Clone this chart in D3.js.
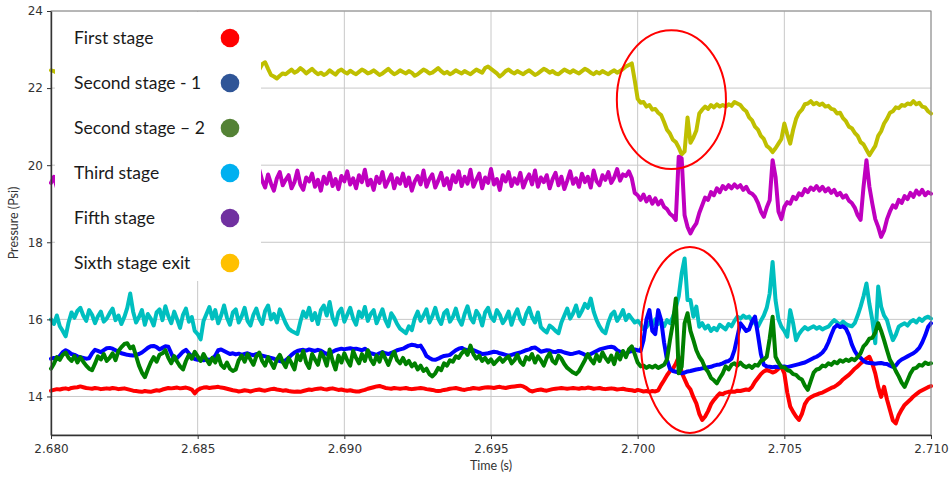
<!DOCTYPE html>
<html>
<head>
<meta charset="utf-8">
<script src="https://cdn.jsdelivr.net/npm/d3@7"></script>
<style>
  body { margin: 0; background: #fff; }
</style>
</head>
<body>
<svg id="chart" width="952" height="478"></svg>
<script>
// Sampling: one reading every 0.1 ms from t = 2.680 s
const sampleStart = 2.680;
const sampleStep = 0.0001;

const xTicks = [2.680, 2.685, 2.690, 2.695, 2.700, 2.705, 2.710];
const yTicks = [14, 16, 18, 20, 22, 24];

// Pressure traces (Psi)
const yellowTrace = [
  22.46,22.44,22.40,22.42,22.38,22.44,22.41,22.36,22.40,22.43,
  22.39,22.42,22.45,22.40,22.37,22.41,22.44,22.39,22.42,22.38,
  22.40,22.43,22.37,22.41,22.44,22.40,22.38,22.42,22.45,22.41,
  22.38,22.42,22.40,22.44,22.39,22.36,22.41,22.43,22.40,22.38,
  22.42,22.45,22.40,22.37,22.41,22.44,22.39,22.42,22.40,22.38,
  22.41,22.43,22.39,22.42,22.45,22.40,22.37,22.41,22.44,22.40,
  22.38,22.42,22.40,22.36,22.41,22.44,22.39,22.42,22.40,22.45,
  22.42,22.48,22.62,22.67,22.50,22.34,22.30,22.25,22.32,22.38,
  22.36,22.42,22.48,22.40,22.44,22.52,22.46,22.38,22.44,22.50,
  22.42,22.36,22.40,22.34,22.38,22.46,22.40,22.35,22.44,22.48,
  22.42,22.38,22.45,22.40,22.36,22.42,22.48,22.44,22.38,22.41,
  22.46,22.40,22.34,22.38,22.44,22.50,22.42,22.36,22.40,22.46,
  22.42,22.38,22.44,22.40,22.32,22.36,22.42,22.48,22.44,22.38,
  22.40,22.46,22.52,22.44,22.38,22.42,22.36,22.40,22.46,22.42,
  22.38,22.44,22.40,22.36,22.42,22.48,22.44,22.40,22.52,22.56,
  22.50,22.44,22.38,22.30,22.36,22.44,22.48,22.42,22.38,22.44,
  22.40,22.36,22.42,22.46,22.40,22.34,22.38,22.44,22.50,22.46,
  22.40,22.44,22.38,22.36,22.42,22.48,22.44,22.40,22.46,22.42,
  22.38,22.44,22.50,22.46,22.40,22.36,22.42,22.38,22.44,22.40,
  22.36,22.42,22.46,22.40,22.44,22.50,22.56,22.60,22.64,22.20,
  21.72,21.62,21.64,21.52,21.56,21.44,21.46,21.36,21.30,21.12,
  20.92,20.82,20.66,20.60,20.46,20.28,20.36,21.24,20.58,20.72,
  20.90,21.34,21.44,21.52,21.46,21.56,21.50,21.58,21.52,21.56,
  21.52,21.58,21.54,21.64,21.60,21.56,21.46,21.40,21.24,21.16,
  21.00,20.92,20.76,20.68,20.50,20.44,20.34,20.44,20.56,20.68,
  21.08,20.80,20.56,20.92,21.20,21.36,21.44,21.58,21.60,21.66,
  21.58,21.62,21.56,21.60,21.52,21.54,21.46,21.44,21.34,21.36,
  21.22,21.14,21.00,20.96,20.84,20.76,20.60,20.54,20.40,20.26,
  20.38,20.50,20.76,20.88,21.08,21.20,21.36,21.40,21.50,21.48,
  21.56,21.54,21.60,21.58,21.66,21.58,21.62,21.52,21.50,21.40,
  21.34
];

const magentaTrace = [
  19.54,19.70,19.42,19.66,19.50,19.78,19.46,19.62,19.38,19.72,
  19.58,19.44,19.76,19.52,19.68,19.40,19.64,19.80,19.48,19.60,
  19.72,19.44,19.58,19.36,19.70,19.52,19.66,19.42,19.78,19.56,
  19.48,19.74,19.60,19.40,19.68,19.50,19.82,19.46,19.62,19.70,
  19.44,19.58,19.76,19.50,19.38,19.66,19.54,19.72,19.46,19.60,
  19.80,19.52,19.64,19.42,19.70,19.56,19.48,19.74,19.62,19.40,
  19.68,19.54,19.78,19.46,19.60,19.72,19.44,19.58,19.66,19.50,
  19.74,19.88,19.60,19.42,19.76,19.52,19.34,19.66,19.82,19.48,
  19.62,19.74,19.40,19.56,19.86,19.50,19.36,19.68,19.58,19.78,
  19.44,19.62,19.34,19.70,19.52,19.80,19.46,19.64,19.38,19.72,
  19.58,19.84,19.50,19.66,19.40,19.74,19.56,19.88,19.48,19.62,
  19.36,19.70,19.54,19.82,19.44,19.60,19.76,19.40,19.66,19.52,
  19.78,19.46,19.68,19.34,19.58,19.72,19.50,19.86,19.44,19.64,
  19.76,19.42,19.60,19.80,19.48,19.66,19.38,19.74,19.56,19.84,
  19.46,19.70,19.52,19.88,19.44,19.62,19.78,19.40,19.68,19.54,
  19.90,19.50,19.64,19.36,19.74,19.58,19.82,19.46,19.66,19.52,
  19.80,19.42,19.62,19.76,19.50,19.86,19.44,19.68,19.56,19.74,
  19.40,19.64,19.80,19.48,19.70,19.38,19.60,19.84,19.52,19.66,
  19.44,19.78,19.56,19.70,19.42,19.86,19.58,19.48,19.74,19.62,
  19.82,19.54,19.68,19.90,19.60,19.76,19.72,19.84,19.66,19.28,
  19.22,19.10,19.24,19.06,19.18,19.00,19.14,18.98,19.08,18.92,
  18.86,18.74,18.68,18.58,20.22,20.18,18.70,18.40,18.23,18.38,
  18.49,18.76,18.96,19.16,19.10,19.30,19.22,19.40,19.30,19.46,
  19.38,19.48,19.40,19.50,19.42,19.48,19.36,19.44,19.30,19.26,
  19.18,19.02,18.80,18.66,18.90,19.09,20.13,19.70,18.80,18.60,
  18.92,19.04,19.00,19.18,19.12,19.27,19.22,19.38,19.30,19.42,
  19.36,19.46,19.34,19.44,19.32,19.40,19.28,19.36,19.22,19.28,
  19.16,19.22,19.08,19.02,18.90,18.70,18.58,19.44,20.13,19.44,
  19.00,18.60,18.40,18.14,18.30,18.60,18.80,18.96,18.90,19.10,
  19.02,19.20,19.12,19.28,19.18,19.34,19.24,19.36,19.22,19.30,
  19.26
];

const cyanTrace = [
  16.00,15.88,16.10,15.82,15.70,15.56,15.92,16.18,16.04,16.22,
  16.30,16.10,15.96,16.24,16.12,15.90,16.08,16.20,15.94,16.02,
  16.16,16.28,15.98,16.10,15.88,16.06,16.30,16.67,16.20,15.92,
  16.06,16.24,15.86,16.14,16.02,15.84,16.18,16.26,15.98,16.34,
  16.08,15.90,16.20,16.00,15.78,16.12,16.28,15.94,16.06,15.70,
  15.62,15.48,15.96,16.14,16.32,16.02,16.24,15.90,16.10,16.36,
  16.04,15.86,16.18,16.26,15.92,16.08,16.30,15.96,15.84,16.12,
  16.28,16.02,15.88,16.22,16.36,16.00,16.14,15.92,16.26,16.08,
  15.90,15.76,15.70,15.66,15.62,15.94,16.20,16.06,16.30,15.98,
  16.16,15.88,16.24,16.36,16.10,16.45,16.04,15.86,16.18,16.28,
  15.94,16.12,16.30,16.02,15.86,16.20,16.06,16.32,15.96,16.14,
  16.24,15.90,16.08,16.26,15.98,15.82,16.16,16.04,15.88,15.76,
  15.70,15.64,15.82,15.72,16.02,16.20,15.96,16.10,16.26,15.92,
  16.08,16.30,16.02,15.88,16.16,16.24,15.94,16.06,16.28,16.00,
  15.86,16.14,16.34,16.04,15.92,16.22,16.10,15.84,16.18,16.30,
  16.06,15.96,16.24,16.12,15.90,16.02,16.20,15.86,16.10,16.26,
  16.00,15.88,16.14,16.30,16.06,15.92,16.18,15.80,15.72,15.66,
  15.84,15.78,15.70,15.64,15.92,16.10,16.28,16.02,16.16,16.36,
  16.08,16.22,16.40,16.30,16.54,16.20,15.98,15.82,15.70,15.64,
  15.92,16.12,16.20,15.96,16.08,16.24,15.98,16.12,16.02,15.92,
  15.96,15.88,15.74,15.80,15.92,15.84,16.00,15.88,15.94,15.82,
  15.98,15.90,16.06,16.30,16.60,17.19,17.58,16.50,16.50,16.07,
  16.33,15.81,15.90,15.76,15.84,15.70,15.78,15.72,15.86,15.80,
  15.74,15.88,15.82,15.96,16.07,16.02,16.10,16.04,16.07,15.96,
  15.90,15.81,15.96,16.10,16.30,16.67,17.49,16.50,16.00,15.81,
  15.70,15.55,16.24,15.90,15.46,15.62,15.72,15.80,15.74,15.78,
  15.82,15.76,15.80,15.74,15.78,15.81,15.90,15.98,15.92,15.86,
  15.94,15.88,15.84,15.82,15.90,16.10,16.33,16.60,16.93,16.40,
  15.98,15.38,16.85,16.33,16.10,15.98,15.70,15.46,15.60,15.81,
  15.86,15.90,15.84,15.94,15.98,15.92,16.02,15.96,16.04,16.07,
  16.02
];

const blueTrace = [
  14.98,15.00,14.97,15.05,15.15,15.20,15.16,15.10,15.08,15.04,
  15.02,15.00,14.98,14.99,15.12,15.21,15.18,15.15,15.20,15.25,
  15.26,15.24,15.20,15.16,15.12,15.10,15.08,15.07,15.06,15.08,
  15.10,15.14,15.20,15.26,15.30,15.31,15.28,15.22,15.26,15.30,
  15.29,15.12,14.96,15.00,15.08,15.16,15.21,15.12,15.04,14.97,
  14.95,14.96,14.94,14.96,14.95,14.98,15.06,15.20,15.22,15.18,
  15.14,15.10,15.12,15.09,15.11,15.08,15.10,15.12,15.09,15.07,
  15.10,15.08,15.06,15.04,15.02,15.00,14.98,14.94,14.92,14.90,
  14.94,15.00,15.08,15.14,15.18,15.20,15.21,15.19,15.22,15.20,
  15.18,15.21,15.19,15.14,15.10,15.12,15.16,15.20,15.22,15.24,
  15.22,15.24,15.25,15.23,15.24,15.22,15.20,15.24,15.18,15.12,
  15.10,15.08,15.12,15.15,15.12,15.10,15.13,15.16,15.20,15.22,
  15.24,15.28,15.32,15.34,15.33,15.30,15.32,15.20,15.05,15.00,
  14.96,14.95,14.98,15.02,15.05,15.06,15.08,15.14,15.20,15.24,
  15.26,15.22,15.20,15.18,15.20,15.17,15.14,15.10,15.11,15.12,
  15.14,15.16,15.15,15.12,15.10,15.08,15.06,15.08,15.10,15.12,
  15.14,15.17,15.20,15.22,15.26,15.27,15.22,15.16,15.18,15.20,
  15.19,15.16,15.15,15.18,15.17,15.14,15.12,15.10,15.11,15.13,
  15.15,15.12,15.08,15.06,15.10,15.14,15.18,15.22,15.24,15.26,
  15.28,15.29,15.27,15.20,15.16,15.12,15.10,15.16,15.18,15.22,
  15.20,15.18,15.46,16.00,16.24,15.70,15.62,16.24,15.98,15.40,
  14.95,14.72,14.66,14.64,14.62,14.60,14.62,14.65,14.66,14.68,
  14.70,14.71,14.73,14.74,14.76,14.77,14.80,14.82,14.83,14.86,
  14.90,14.92,14.98,15.20,15.55,15.90,15.80,15.70,15.74,15.95,
  16.07,15.60,15.10,14.82,14.78,14.77,14.76,14.77,14.76,14.77,
  14.78,14.76,14.78,14.80,14.82,14.84,14.86,14.88,14.92,14.96,
  15.00,15.03,15.08,15.14,15.24,15.40,15.60,15.78,15.85,15.80,
  15.82,15.76,15.60,15.35,15.18,15.06,15.00,14.92,14.88,14.87,
  14.86,14.85,14.86,14.87,14.85,14.84,14.80,14.77,14.80,14.90,
  14.96,15.00,15.04,15.08,15.12,15.18,15.26,15.40,15.58,15.80,
  15.90
];

const greenTrace = [
  14.72,14.85,15.02,14.95,15.08,15.14,15.00,14.92,15.05,14.88,
  15.02,14.90,14.80,14.72,14.68,14.85,15.04,14.96,15.10,14.92,
  15.00,15.12,14.94,15.18,15.28,15.36,15.38,15.25,15.30,15.05,
  14.80,14.62,14.50,14.70,14.88,15.02,14.90,15.08,15.12,15.20,
  15.00,14.86,15.05,14.90,14.78,14.70,14.92,15.08,14.98,15.16,
  15.04,14.92,15.10,14.96,14.84,15.00,14.88,15.06,14.82,14.74,
  14.88,14.72,14.66,14.70,14.94,15.06,14.90,15.10,14.96,14.82,
  15.04,15.14,14.92,14.80,15.02,14.88,14.74,14.96,15.08,14.90,
  14.76,15.00,14.86,14.70,15.08,14.94,15.18,14.88,14.74,15.10,
  14.96,14.82,15.14,15.02,14.80,15.22,14.92,14.70,15.06,14.88,
  15.12,14.94,14.80,15.18,15.00,14.86,15.10,14.92,15.20,14.96,
  14.84,15.06,14.90,15.14,14.98,14.82,15.02,15.16,14.94,14.86,
  15.00,14.84,14.92,14.78,14.86,14.70,14.80,14.66,14.72,14.58,
  14.52,14.60,14.74,14.68,14.86,14.80,14.94,14.90,15.04,15.00,
  15.12,15.20,15.08,15.32,15.10,14.98,15.06,14.92,15.00,14.88,
  14.96,14.84,14.92,15.00,14.90,14.98,15.04,14.86,14.94,15.08,
  14.90,14.82,15.02,14.96,15.10,14.88,15.04,14.94,14.80,15.00,
  15.12,14.92,14.86,15.06,14.98,14.84,14.74,14.68,14.62,14.58,
  14.66,14.80,14.94,15.10,14.96,14.86,15.08,14.92,15.14,15.00,
  14.90,15.06,14.84,15.12,14.96,15.18,15.02,15.22,15.30,15.10,
  14.88,14.78,14.80,14.74,14.79,14.75,14.80,14.74,14.78,14.82,
  14.96,15.46,15.90,16.54,14.60,14.77,15.90,16.16,15.70,15.46,
  15.20,15.03,14.92,14.74,14.64,14.48,14.42,14.34,14.48,14.60,
  14.78,14.70,14.82,14.86,14.80,14.88,14.80,14.76,14.80,14.74,
  14.82,14.80,14.92,14.96,15.03,15.50,16.07,15.03,14.88,14.76,
  14.76,14.68,14.66,14.58,14.56,14.48,14.44,14.28,14.17,14.40,
  14.62,14.70,14.72,14.80,14.78,14.86,14.82,14.90,14.86,14.94,
  14.90,14.96,14.92,14.98,14.94,15.02,15.12,15.30,15.38,15.50,
  15.52,15.66,15.90,15.70,15.46,15.20,14.95,14.82,14.66,14.52,
  14.36,14.25,14.42,14.60,14.72,14.74,14.82,14.80,14.88,14.84,
  14.86
];

const redTrace = [
  14.15,14.17,14.19,14.18,14.20,14.21,14.19,14.22,14.23,14.24,
  14.26,14.24,14.22,14.21,14.20,14.22,14.21,14.19,14.20,14.21,
  14.20,14.22,14.21,14.19,14.20,14.21,14.19,14.17,14.15,14.14,
  14.13,14.12,14.14,14.13,14.12,14.14,14.16,14.15,14.18,14.20,
  14.22,14.21,14.22,14.23,14.21,14.22,14.23,14.21,14.18,14.08,
  14.17,14.21,14.23,14.24,14.22,14.23,14.24,14.25,14.23,14.22,
  14.20,14.18,14.16,14.15,14.13,14.14,14.16,14.15,14.13,14.15,
  14.17,14.18,14.16,14.15,14.17,14.19,14.20,14.18,14.17,14.15,
  14.16,14.14,14.13,14.12,14.13,14.12,14.14,14.16,14.18,14.17,
  14.19,14.20,14.21,14.19,14.18,14.20,14.21,14.19,14.17,14.18,
  14.16,14.15,14.16,14.14,14.13,14.13,14.15,14.17,14.20,14.22,
  14.24,14.26,14.27,14.25,14.22,14.21,14.20,14.22,14.21,14.20,
  14.21,14.22,14.20,14.19,14.20,14.21,14.22,14.21,14.19,14.18,
  14.17,14.15,14.14,14.15,14.17,14.18,14.20,14.21,14.22,14.20,
  14.18,14.17,14.19,14.20,14.22,14.21,14.20,14.22,14.23,14.24,
  14.23,14.22,14.24,14.25,14.23,14.22,14.24,14.25,14.26,14.27,
  14.28,14.26,14.22,14.16,14.13,14.15,14.17,14.18,14.16,14.15,
  14.17,14.19,14.20,14.21,14.22,14.21,14.20,14.21,14.22,14.21,
  14.20,14.22,14.21,14.23,14.22,14.20,14.21,14.22,14.20,14.19,
  14.20,14.21,14.20,14.18,14.19,14.20,14.18,14.17,14.16,14.14,
  14.17,14.15,14.13,14.14,14.12,14.14,14.13,14.16,14.30,14.42,
  14.55,14.66,14.72,14.85,15.03,14.62,14.45,14.28,14.18,13.98,
  13.82,13.55,13.39,13.48,13.62,13.80,13.91,14.00,14.08,14.06,
  14.10,14.12,14.13,14.12,14.15,14.14,14.16,14.18,14.17,14.25,
  14.38,14.48,14.58,14.65,14.69,14.66,14.62,14.65,14.72,14.77,
  14.60,14.10,13.74,13.60,13.48,13.39,13.55,13.80,13.92,13.98,
  14.02,14.05,14.08,14.10,14.14,14.18,14.22,14.25,14.30,14.36,
  14.44,14.50,14.56,14.64,14.72,14.78,14.86,14.92,14.98,15.03,
  14.85,14.60,14.25,13.99,14.25,13.92,13.65,13.38,13.30,13.52,
  13.66,13.78,13.85,13.92,14.00,14.06,14.12,14.16,14.20,14.24,
  14.27
];

// Draw order, bottom to top
const traces = [yellowTrace, magentaTrace, cyanTrace, redTrace, blueTrace, greenTrace];
const traceColors = ["#bfbf00", "#bf00bf", "#00bfbf", "#ff0000", "#0000ff", "#008000"];

const legendLabels = ["First stage", "Second stage - 1", "Second stage \u2013 2", "Third stage", "Fifth stage", "Sixth stage exit"];
const legendColors = ["#ff0000", "#2f5597", "#548235", "#00b0f0", "#7030a0", "#ffc000"];

// Highlighted events: centre (time, pressure) and half-extents
const highlightT = [2.70115, 2.70178];
const highlightV = [21.70, 15.465];
const highlightRT = [0.00186, 0.00167];
const highlightRV = [1.80, 2.41];

const svg = d3.select("#chart");
const x = d3.scaleLinear().domain([2.680, 2.710]).range([51, 931]);
const y = d3.scaleLinear().domain([13, 24]).range([435, 11]);

// grid
const grid = svg.append("g").attr("stroke", "#c8c8c8").attr("stroke-width", 1);
grid.selectAll("line.gx").data(xTicks).join("line")
  .attr("x1", d => x(d)).attr("x2", d => x(d))
  .attr("y1", y(13)).attr("y2", y(24));
grid.selectAll("line.gy").data(yTicks).join("line")
  .attr("class", "gy")
  .attr("x1", x(2.680)).attr("x2", x(2.710))
  .attr("y1", d => y(d)).attr("y2", d => y(d));

// traces
const line = d3.line()
  .x((d, i) => x(sampleStart + i * sampleStep))
  .y(d => y(d));
svg.append("g").selectAll("path").data(traces).join("path")
  .attr("d", d => line(d))
  .attr("fill", "none")
  .attr("stroke", (d, i) => traceColors[i])
  .attr("stroke-width", 4)
  .attr("stroke-linejoin", "round")
  .attr("stroke-linecap", "round");

// frame
svg.append("rect")
  .attr("x", x(2.680)).attr("y", y(24))
  .attr("width", x(2.710) - x(2.680)).attr("height", y(13) - y(24))
  .attr("fill", "none").attr("stroke", "#8a8a8a").attr("stroke-width", 1);

// axes
const xAxis = svg.append("g")
  .attr("transform", `translate(0,${y(13)})`)
  .call(d3.axisBottom(x).tickValues(xTicks).tickFormat(d3.format(".3f")).tickSize(4).tickSizeOuter(0).tickPadding(5));
const yAxis = svg.append("g")
  .attr("transform", `translate(${x(2.680)},0)`)
  .call(d3.axisLeft(y).tickValues(yTicks).tickSize(4).tickSizeOuter(0).tickPadding(4));
[xAxis, yAxis].forEach(g => {
  g.select(".domain").attr("stroke", "#333").attr("stroke-width", 1.4);
  g.selectAll(".tick line").attr("stroke", "#333");
  g.selectAll(".tick text").attr("fill", "#333")
    .style("font-family", "'DejaVu Sans', sans-serif").style("font-size", "12px");
});

// axis titles
svg.append("text")
  .attr("x", (x(2.680) + x(2.710)) / 2).attr("y", 470)
  .attr("text-anchor", "middle")
  .style("font-family", "Lato, 'Open Sans', sans-serif").style("font-size", "12.5px")
  .attr("fill", "#333").text("Time (s)");
svg.append("text")
  .attr("transform", `translate(18,${(y(13) + y(24)) / 2}) rotate(-90)`)
  .attr("text-anchor", "middle")
  .style("font-family", "Lato, 'Open Sans', sans-serif").style("font-size", "12.5px")
  .attr("fill", "#333").text("Pressure (Psi)");

// legend box
const legend = svg.append("g");
legend.append("rect")
  .attr("x", 55).attr("y", 12).attr("width", 206).attr("height", 269)
  .attr("fill", "#fff");
const rows = legend.selectAll("g.row").data(legendLabels).join("g")
  .attr("class", "row")
  .attr("transform", (d, i) => `translate(0,${37.5 + i * 45})`);
rows.append("text")
  .attr("x", 74).attr("y", 0).attr("dy", "0.36em")
  .style("font-family", "Lato, 'Open Sans', sans-serif").style("font-size", "17.5px")
  .attr("fill", "#1a1a1a")
  .text(d => d);
rows.append("circle")
  .attr("cx", 230).attr("cy", 0.5).attr("r", 9.3)
  .attr("fill", (d, i) => legendColors[i]);

// highlighted events
svg.append("g").selectAll("ellipse").data(highlightT).join("ellipse")
  .attr("cx", d => x(d))
  .attr("cy", (d, i) => y(highlightV[i]))
  .attr("rx", (d, i) => x(d + highlightRT[i]) - x(d))
  .attr("ry", (d, i) => y(highlightV[i] - highlightRV[i]) - y(highlightV[i]))
  .attr("fill", "none").attr("stroke", "#ff0000").attr("stroke-width", 2);
</script>
</body>
</html>
